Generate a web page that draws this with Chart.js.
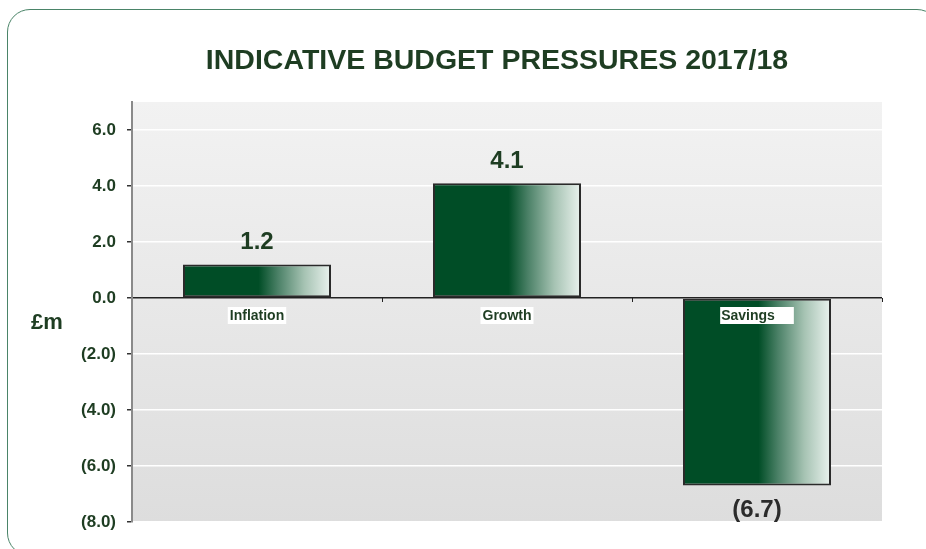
<!DOCTYPE html>
<html>
<head>
<meta charset="utf-8">
<title>Indicative Budget Pressures 2017/18</title>
<script src="https://cdn.jsdelivr.net/npm/chart.js@4/dist/chart.umd.min.js"></script>
<style>
  body { margin: 0; background: #fff; }
  #wrap { position: relative; width: 926px; height: 549px; overflow: hidden; }
  #frame {
    position: absolute; left: 7px; top: 9px; width: 933px; height: 547px;
    border: 1.5px solid #4a8468; border-radius: 23px; box-sizing: border-box;
  }
  #myChart { position: absolute; left: 0; top: 0; }
</style>
</head>
<body>
<div id="wrap">
  <div id="frame"></div>
  <canvas id="myChart" width="926" height="549"></canvas>
</div>
<script>
const categories = ["Inflation", "Growth", "Savings"];
const amounts = [1.2, 4.1, -6.7];
const yTicks = [6, 4, 2, 0, -2, -4, -6, -8];
const chartTitle = "INDICATIVE BUDGET PRESSURES 2017/18";
const unitLabel = "£m";

const darkGreen = "#1e3d22";
const barPct = 0.592;

const fmt = (v) => (v < 0 ? "(" + Math.abs(v).toFixed(1) + ")" : v.toFixed(1));

// fade from solid green to almost white across the right half of each bar
const barFill = (c) => {
  const chart = c.chart;
  const { ctx, chartArea, scales } = chart;
  if (!chartArea || c.type !== "data") return "#004d26";
  const xc = scales.x.getPixelForValue(c.dataIndex);
  const half = (chartArea.width / categories.length) * barPct / 2;
  const g = ctx.createLinearGradient(xc - half, 0, xc + half, 0);
  g.addColorStop(0, "#004d26");
  g.addColorStop(0.51, "#004d26");
  g.addColorStop(0.64, "#4a8066");
  g.addColorStop(0.82, "#a6c3b3");
  g.addColorStop(1, "#eaf2ee");
  return g;
};

const decor = {
  id: "decor",
  beforeDraw(chart) {
    const { ctx, chartArea: a } = chart;
    const g = ctx.createLinearGradient(0, a.top, 0, a.bottom);
    g.addColorStop(0, "#f2f2f2");
    g.addColorStop(1, "#dddddd");
    ctx.save();
    ctx.fillStyle = g;
    ctx.fillRect(a.left, a.top, a.right - a.left, a.bottom - a.top);
    ctx.restore();
  },
  afterDatasetsDraw(chart) {
    const { ctx, chartArea: a, scales } = chart;
    const y0 = scales.y.getPixelForValue(0);
    const step = (a.right - a.left) / categories.length;
    ctx.save();

    // zero line ticks between categories
    ctx.strokeStyle = "#222";
    ctx.lineWidth = 1;
    for (let i = 1; i <= categories.length; i++) {
      const x = Math.round(a.left + step * i) + 0.5;
      ctx.beginPath();
      ctx.moveTo(x, y0);
      ctx.lineTo(x, y0 + 4);
      ctx.stroke();
    }

    // category names sit just under the zero line on a white box
    ctx.font = "bold 14px 'Liberation Sans', Arial, sans-serif";
    ctx.textBaseline = "middle";
    categories.forEach((name, i) => {
      const x = scales.x.getPixelForValue(i);
      const w = ctx.measureText(name).width;
      const boxW = amounts[i] < 0 ? w + 20 : w + 4;
      const left = x - boxW / 2;
      ctx.fillStyle = "#fff";
      ctx.fillRect(left, y0 + 9, boxW, 17);
      ctx.fillStyle = darkGreen;
      ctx.textAlign = "left";
      ctx.fillText(name, amounts[i] < 0 ? left + 1 : x - w / 2, y0 + 18);
    });

    // value labels
    ctx.font = "bold 24px 'Liberation Sans', Arial, sans-serif";
    ctx.textAlign = "center";
    amounts.forEach((v, i) => {
      const x = scales.x.getPixelForValue(i);
      const y = scales.y.getPixelForValue(v);
      ctx.fillStyle = v < 0 ? "#2b2b2b" : darkGreen;
      ctx.fillText(fmt(v), x, v < 0 ? y + 25 : y - 22);
    });

    // title and unit
    ctx.fillStyle = darkGreen;
    ctx.font = "bold 28.5px 'Liberation Sans', Arial, sans-serif";
    ctx.fillText(chartTitle, 497, 61);
    ctx.font = "bold 22px 'Liberation Sans', Arial, sans-serif";
    ctx.fillText(unitLabel, 47, 323);
    ctx.restore();
  },
};

const config = {
  type: "bar",
  data: {
    labels: categories,
    datasets: [
      {
        data: amounts,
        backgroundColor: barFill,
        borderColor: "#2a2a2a",
        borderWidth: 2,
        borderSkipped: false,
        barPercentage: barPct,
        categoryPercentage: 1,
      },
    ],
  },
  options: {
    responsive: false,
    animation: false,
    devicePixelRatio: 1,
    layout: { padding: { top: 102, right: 44, bottom: 27, left: 0 } },
    scales: {
      x: { display: false },
      y: {
        min: -8,
        max: 7,
        afterBuildTicks: (s) => {
          s.ticks = yTicks.map((v) => ({ value: v }));
        },
        afterFit: (s) => {
          s.width = 132;
        },
        border: { color: "#8a8a8a", width: 2 },
        grid: {
          color: (c) => (c.tick && c.tick.value === 0 ? "#222" : "#ffffff"),
          lineWidth: 1.5,
          tickLength: 5,
          tickColor: "#333",
        },
        ticks: {
          padding: 11,
          color: darkGreen,
          font: { family: "'Liberation Sans', Arial, sans-serif", size: 17, weight: "bold" },
          callback: (v) => fmt(v),
        },
      },
    },
    plugins: {
      legend: { display: false },
      tooltip: { enabled: false },
    },
  },
  plugins: [decor],
};

const myChart = new Chart(document.getElementById("myChart"), config);
</script>
</body>
</html>
